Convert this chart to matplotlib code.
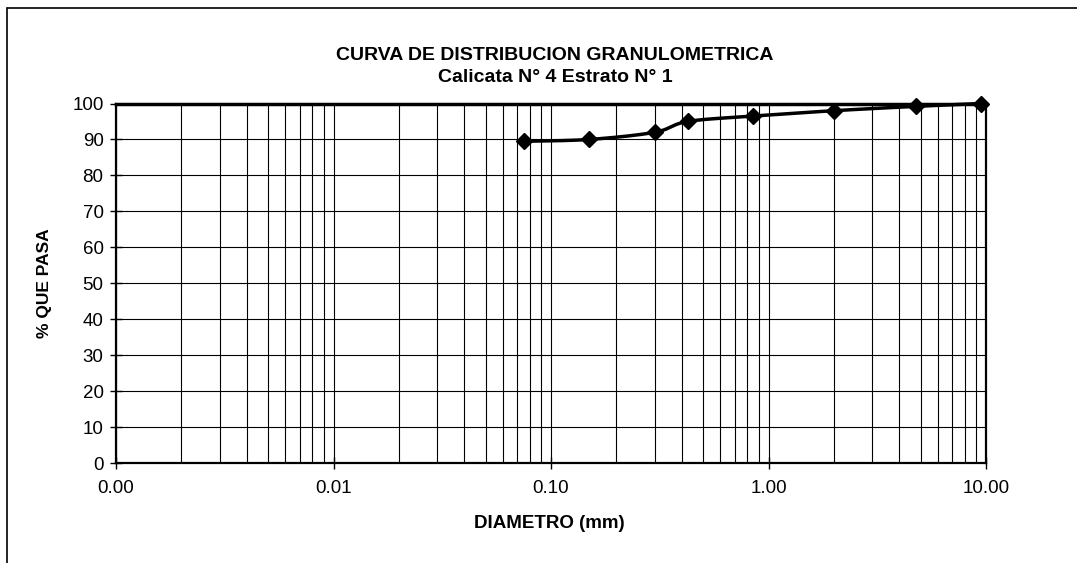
import numpy as np
import matplotlib
matplotlib.use("Agg")
import matplotlib.pyplot as plt
from matplotlib.lines import Line2D
from matplotlib.ticker import FixedLocator, FixedFormatter, LogLocator, NullFormatter

plt.rcParams['font.family'] = ['Liberation Sans', 'DejaVu Sans']

# ---- data ----
diam = [0.075, 0.15, 0.3, 0.425, 0.85, 2.0, 4.75, 9.5]
pasa = [89.5, 90.0, 92.0, 95.0, 96.5, 98.0, 99.2, 100.0]
x_ticks = [0.001, 0.01, 0.1, 1.0, 10.0]
x_tick_labels = ["0.00", "0.01", "0.10", "1.00", "10.00"]
y_ticks = [0, 10, 20, 30, 40, 50, 60, 70, 80, 90, 100]
title1 = "CURVA DE DISTRIBUCION GRANULOMETRICA"
title2 = "Calicata N° 4 Estrato N° 1"
xlabel = "DIAMETRO (mm)"
ylabel = "% QUE PASA"


def bezier_smooth(P, n=40):
    """Excel-style smoothed line: cubic Bezier with Catmull-Rom control points."""
    P = np.asarray(P, float)
    k = len(P)
    out = []
    for i in range(k - 1):
        p0 = P[i - 1] if i > 0 else P[i]
        p1 = P[i]
        p2 = P[i + 1]
        p3 = P[i + 2] if i + 2 < k else P[i + 1]
        c1 = p1 + (p2 - p0) / 6.0
        c2 = p2 - (p3 - p1) / 6.0
        t = np.linspace(0, 1, n)[:, None]
        seg = ((1 - t) ** 3) * p1 + 3 * ((1 - t) ** 2) * t * c1 \
            + 3 * (1 - t) * t ** 2 * c2 + t ** 3 * p2
        out.append(seg)
    return np.vstack(out)


W, H = 1077, 563
fig = plt.figure(figsize=(W / 100, H / 100), dpi=100)
ax = fig.add_axes([116 / W, (H - 463) / H, 870 / W, 359.5 / H])

ax.set_xscale("log")
ax.set_xlim(0.001, 10)
ax.set_ylim(0, 100)

# smooth in display space, then map back to data space
disp = ax.transData.transform(np.column_stack([diam, pasa]))
curve = ax.transData.inverted().transform(bezier_smooth(disp))
ax.plot(curve[:, 0], curve[:, 1], color="black", lw=2.5, zorder=4, clip_on=False)
ax.plot(diam, pasa, linestyle="none", marker="D", ms=8.5, color="black",
        zorder=5, clip_on=False)

ax.xaxis.set_major_locator(FixedLocator(x_ticks))
ax.xaxis.set_major_formatter(FixedFormatter(x_tick_labels))
ax.xaxis.set_minor_locator(LogLocator(base=10, subs=np.arange(2, 10)))
ax.xaxis.set_minor_formatter(NullFormatter())
ax.yaxis.set_major_locator(FixedLocator(y_ticks))

ax.grid(which="both", axis="x", color="black", lw=0.8)
ax.grid(which="major", axis="y", color="black", lw=0.8)
ax.set_axisbelow(True)
ax.tick_params(which="minor", length=0)
ax.tick_params(axis="x", which="major", direction="inout", length=8, width=1,
               labelsize=13.5, pad=8)
ax.tick_params(axis="y", which="major", direction="inout", length=8, width=1,
               labelsize=13.5, pad=5)
for s in ax.spines.values():
    s.set_linewidth(1.6)
ax.spines["top"].set_linewidth(2.5)

fig.text(555 / W, 1 - 56 / H, title1, ha="center", va="center",
         fontsize=14, fontweight="bold")
fig.text(555 / W, 1 - 78 / H, title2, ha="center", va="center",
         fontsize=14, fontweight="bold")
fig.text(549 / W, 1 - 523 / H, xlabel, ha="center", va="center",
         fontsize=13.5, fontweight="bold")
fig.text(44 / W, 1 - 283 / H, ylabel, ha="center", va="center",
         fontsize=12.5, fontweight="bold", rotation=90)

fig.add_artist(Line2D([8 / W, 1], [1 - 8 / H, 1 - 8 / H], transform=fig.transFigure,
                      color="black", lw=1.2))
fig.add_artist(Line2D([7 / W, 7 / W], [0, 1 - 8 / H], transform=fig.transFigure,
                      color="black", lw=1.2))

fig.savefig("out.png", dpi=100, facecolor="white")
